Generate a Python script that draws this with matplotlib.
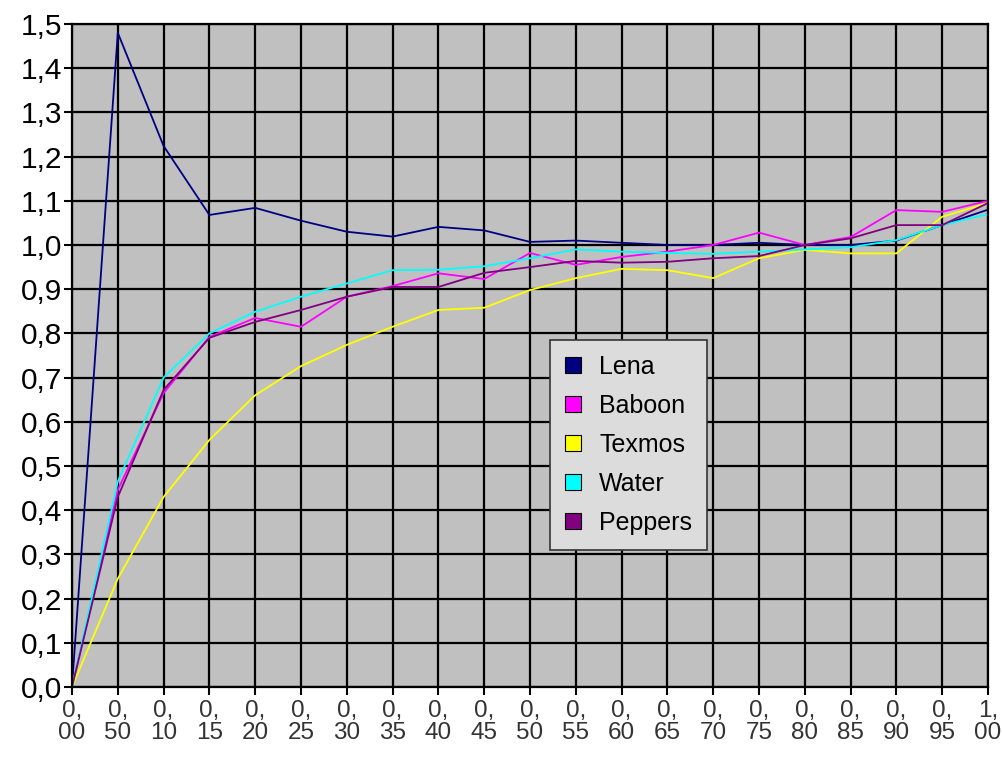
import numpy as np
import matplotlib
matplotlib.use("Agg")
import matplotlib.pyplot as plt
from matplotlib.patches import Patch

plt.rcParams['font.family'] = ['Liberation Sans', 'DejaVu Sans']

# category labels as printed (two lines each)
x_tops = ["0,"] * 20 + ["1,"]
x_bottoms = ["00", "50", "10", "15", "20", "25", "30", "35", "40", "45",
             "50", "55", "60", "65", "70", "75", "80", "85", "90", "95", "00"]

lena = [0.0, 1.48, 1.224, 1.068, 1.084, 1.055, 1.03, 1.019, 1.041, 1.033, 1.007,
        1.01, 1.005, 1.0, 1.0, 1.005, 1.0, 1.0, 1.01, 1.045, 1.08]
baboon = [0.0, 0.446, 0.665, 0.792, 0.835, 0.815, 0.883, 0.907, 0.936, 0.923, 0.982,
          0.955, 0.973, 0.985, 1.0, 1.028, 1.0, 1.018, 1.079, 1.075, 1.10]
texmos = [0.0, 0.245, 0.43, 0.559, 0.66, 0.726, 0.774, 0.815, 0.853, 0.858, 0.898,
          0.925, 0.946, 0.943, 0.925, 0.97, 0.989, 0.981, 0.981, 1.064, 1.095]
water = [0.0, 0.465, 0.70, 0.80, 0.849, 0.883, 0.913, 0.943, 0.944, 0.952, 0.97,
         0.99, 0.985, 0.982, 0.98, 0.985, 0.99, 0.995, 1.011, 1.045, 1.07]
peppers = [0.0, 0.43, 0.672, 0.79, 0.826, 0.853, 0.883, 0.905, 0.905, 0.937, 0.95,
           0.964, 0.96, 0.962, 0.97, 0.975, 1.0, 1.015, 1.045, 1.045, 1.095]

series = [("Lena", lena, "#000080"),
          ("Baboon", baboon, "#FF00FF"),
          ("Texmos", texmos, "#FFFF00"),
          ("Water", water, "#00FFFF"),
          ("Peppers", peppers, "#800080")]

fig = plt.figure(figsize=(10.02, 7.63), dpi=100)
ax = fig.add_axes([72 / 1002, (763 - 687) / 763, (988 - 72) / 1002, (687 - 24) / 763])
ax.set_facecolor("#C0C0C0")

x = np.arange(len(x_bottoms))
for name, vals, col in series:
    ax.plot(x, vals, color=col, lw=1.3, label=name)

ax.set_xlim(0, len(x) - 1)
ax.set_ylim(0, 1.5)
ax.set_xticks(x)
ax.set_xticklabels([t + "\n" + b for t, b in zip(x_tops, x_bottoms)],
                   fontsize=17.5, color="#333333", linespacing=1.05)
yt = np.arange(0, 1.51, 0.1)
ax.set_yticks(yt)
ax.set_yticklabels(["{:.1f}".format(v).replace(".", ",") for v in yt], fontsize=21.5)
ax.grid(True, color="black", lw=1.6)
ax.set_axisbelow(True)
ax.tick_params(axis="x", length=6, width=1.5, pad=3)
ax.tick_params(axis="y", length=6, width=1.5, pad=1)
for s in ax.spines.values():
    s.set_linewidth(1.6)

# square patches in the legend
handles = [Patch(facecolor=col, edgecolor="black", lw=0.8) for _, _, col in series]
leg = ax.legend(handles, [s[0] for s in series], loc="upper left",
                bbox_to_anchor=((550 - 72) / 916, (687 - 340) / 663),
                fontsize=18, fancybox=False, framealpha=1, handlelength=0.62,
                handleheight=0.62, handletextpad=0.75, labelspacing=0.6,
                borderpad=0.6, borderaxespad=0)
leg.get_frame().set_facecolor("#DCDCDC")
leg.get_frame().set_edgecolor("#333333")
leg.get_frame().set_linewidth(1.2)

fig.savefig("out.png", dpi=100, facecolor="white")
